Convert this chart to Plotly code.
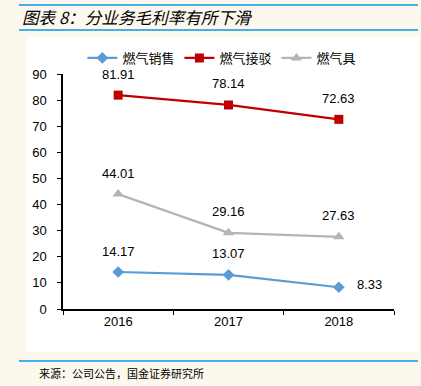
import plotly.graph_objects as go

years = ["2016", "2017", "2018"]
gas_sales = [14.17, 13.07, 8.33]
gas_connect = [81.91, 78.14, 72.63]
gas_appliance = [44.01, 29.16, 27.63]
y_ticks = [0, 10, 20, 30, 40, 50, 60, 70, 80, 90]

series = [
    ("燃气销售", gas_sales, "#5B9BD5", "diamond", 9),
    ("燃气接驳", gas_connect, "#C00000", "square", 9),
    ("燃气具", gas_appliance, "#B4B4B4", "triangle-up", 10),
]

W, H = 421, 386
L, R, T, B = 63, 27, 74, 77
pw, ph = W - L - R, H - T - B


def px2paper(xp, yp):
    return (xp - L) / pw, (H - B - yp) / ph


fig = go.Figure()
for name, vals, color, sym, sz in series:
    fig.add_trace(go.Scatter(
        x=years, y=vals, name=name, mode="lines+markers",
        line=dict(color=color, width=2.25),
        marker=dict(symbol=sym, size=sz, color=color),
        hoverinfo="skip",
    ))

anns = []
label_font = dict(family="Liberation Sans, Arial", size=13, color="#000000")
for name, vals, color, sym, sz in series:
    for i, v in enumerate(vals):
        if name == "燃气销售" and i == 2:
            anns.append(dict(x=i, y=v, xref="x", yref="y", text=f"{v:.2f}",
                             showarrow=False, xanchor="left", xshift=16, yshift=3,
                             font=label_font))
        else:
            anns.append(dict(x=i, y=v, xref="x", yref="y", text=f"{v:.2f}",
                             showarrow=False, yshift=21, font=label_font))

tx, ty = px2paper(20, 17)
anns.append(dict(x=tx, y=ty, xref="paper", yref="paper", xanchor="left", yanchor="middle",
                 text="<i>图表 8：分业务毛利率有所下滑</i>", showarrow=False,
                 font=dict(family="Noto Sans CJK SC", size=16.6, color="#000000")))
sx, sy = px2paper(37, 373)
anns.append(dict(x=sx, y=sy, xref="paper", yref="paper", xanchor="left", yanchor="middle",
                 text="来源：公司公告，国金证券研究所", showarrow=False,
                 font=dict(family="Noto Sans CJK SC", size=11, color="#000000")))

shapes = []
x0, y0 = px2paper(27, 37)
x1, y1 = px2paper(419, 352)
shapes.append(dict(type="rect", xref="paper", yref="paper", x0=x0, y0=y1, x1=x1, y1=y0,
                   fillcolor="#FFFFFF", line=dict(width=0), layer="below"))
for yy in (5, 30, 361):
    a, b = px2paper(19, yy)
    c, _ = px2paper(418, yy)
    shapes.append(dict(type="line", xref="paper", yref="paper", x0=a, x1=c, y0=b, y1=b,
                       line=dict(color="#45B0E6", width=2)))

fig.update_layout(
    width=W, height=H,
    margin=dict(l=L, r=R, t=T, b=B, pad=0, autoexpand=False),
    paper_bgcolor="#FDF8EE", plot_bgcolor="#FFFFFF",
    annotations=anns, shapes=shapes,
    showlegend=True,
    legend=dict(orientation="h", x=0.48, xanchor="center", y=px2paper(0, 58)[1], yanchor="middle",
                font=dict(family="Noto Sans CJK SC", size=13, color="#000000"),
                bgcolor="rgba(0,0,0,0)", itemwidth=30, tracegroupgap=0),
    xaxis=dict(type="category", range=[-0.5, 2.5], showline=True, linecolor="#000000", linewidth=1.5,
               ticks="outside", tickson="boundaries", ticklen=4, tickcolor="#000000",
               showgrid=False, zeroline=False,
               tickfont=dict(family="Liberation Sans, Arial", size=13, color="#000000")),
    yaxis=dict(range=[0, 90], tickvals=y_ticks, showline=True, linecolor="#000000", linewidth=1.5,
               ticks="outside", ticklen=4, tickcolor="#000000", showgrid=False, zeroline=False,
               ticklabelstandoff=8,
               tickfont=dict(family="Liberation Sans, Arial", size=13, color="#000000")),
)

fig.write_html("out.html", config={"displayModeBar": False},
               post_script="document.body.style.margin='0';document.body.style.overflow='hidden';")
